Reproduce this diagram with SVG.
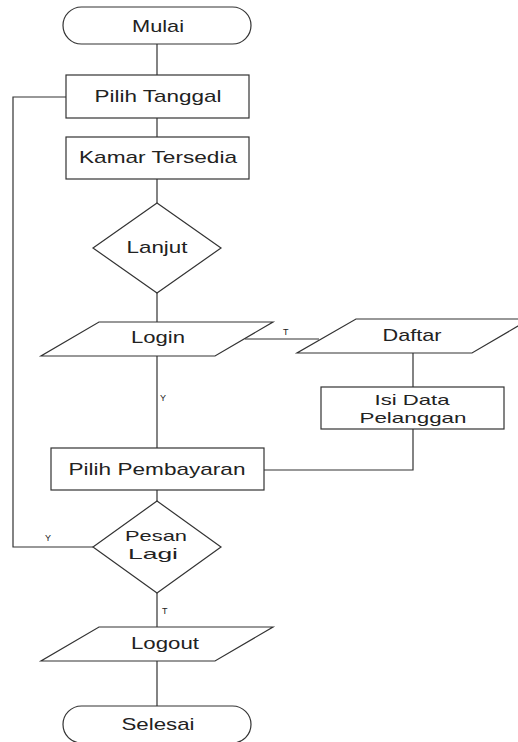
<svg xmlns="http://www.w3.org/2000/svg" width="518" height="742" viewBox="0 0 518 742">
<style>
.s{fill:#fff;stroke:#333;stroke-width:1.2}
.c{fill:none;stroke:#333;stroke-width:1.2}
.t{font-family:"Liberation Sans",Arial,sans-serif;font-size:17px;fill:#222;text-anchor:middle}
.t2{font-size:15px}
.l{font-family:"Liberation Sans",Arial,sans-serif;font-size:9px;fill:#222}
</style>
<rect width="518" height="742" fill="#fff"/>
<g id="connectors">
<path class="c" d="M157 44V75M157 118V137M157 179V203M157 293V322M157 356V448M157 490V501M157 593V627M157 661V706"/>
<path class="c" d="M245 339H319"/>
<path class="c" d="M413 353V387M413 429V470H264"/>
<path class="c" d="M93 547H13V97H66"/>
<text class="l" x="283" y="335">T</text>
<text class="l" x="160" y="401">Y</text>
<text class="l" x="45" y="541">Y</text>
<text class="l" x="162" y="614">T</text>
</g>
<g id="mulai"><rect class="s" x="63" y="7" width="188" height="37" rx="18.5"/><text class="t" x="158" y="32" textLength="52" lengthAdjust="spacingAndGlyphs">Mulai</text></g>
<g id="pilih-tanggal"><rect class="s" x="66" y="75" width="183" height="43"/><text class="t" x="158" y="102" textLength="127" lengthAdjust="spacingAndGlyphs">Pilih Tanggal</text></g>
<g id="kamar-tersedia"><rect class="s" x="66" y="137" width="183" height="42"/><text class="t" x="158" y="163" textLength="158" lengthAdjust="spacingAndGlyphs">Kamar Tersedia</text></g>
<g id="lanjut"><polygon class="s" points="157,203 221,248 157,293 93,248"/><text class="t" x="157" y="253" textLength="61" lengthAdjust="spacingAndGlyphs">Lanjut</text></g>
<g id="login"><polygon class="s" points="99,322 273,322 215,356 41,356"/><text class="t" x="158" y="343" textLength="54" lengthAdjust="spacingAndGlyphs">Login</text></g>
<g id="daftar"><polygon class="s" points="356,319 530,319 472,353 297,353"/><text class="t" x="412" y="341" textLength="59" lengthAdjust="spacingAndGlyphs">Daftar</text></g>
<g id="isi-data"><rect class="s" x="321" y="387" width="183" height="42"/><text class="t t2" x="412" y="405" textLength="75" lengthAdjust="spacingAndGlyphs">Isi Data</text><text class="t t2" x="413" y="423" textLength="107" lengthAdjust="spacingAndGlyphs">Pelanggan</text></g>
<g id="pilih-pembayaran"><rect class="s" x="51" y="448" width="213" height="42"/><text class="t" x="157" y="475" textLength="177" lengthAdjust="spacingAndGlyphs">Pilih Pembayaran</text></g>
<g id="pesan-lagi"><polygon class="s" points="157,501 221,547 157,593 93,547"/><text class="t t2" x="156" y="541" textLength="62" lengthAdjust="spacingAndGlyphs">Pesan</text><text class="t t2" x="153" y="559" textLength="50" lengthAdjust="spacingAndGlyphs">Lagi</text></g>
<g id="logout"><polygon class="s" points="99,627 273,627 215,661 41,661"/><text class="t" x="165" y="649" textLength="68" lengthAdjust="spacingAndGlyphs">Logout</text></g>
<g id="selesai"><rect class="s" x="63" y="706" width="188" height="37" rx="18.5"/><text class="t" x="158" y="730" textLength="73" lengthAdjust="spacingAndGlyphs">Selesai</text></g>
</svg>
